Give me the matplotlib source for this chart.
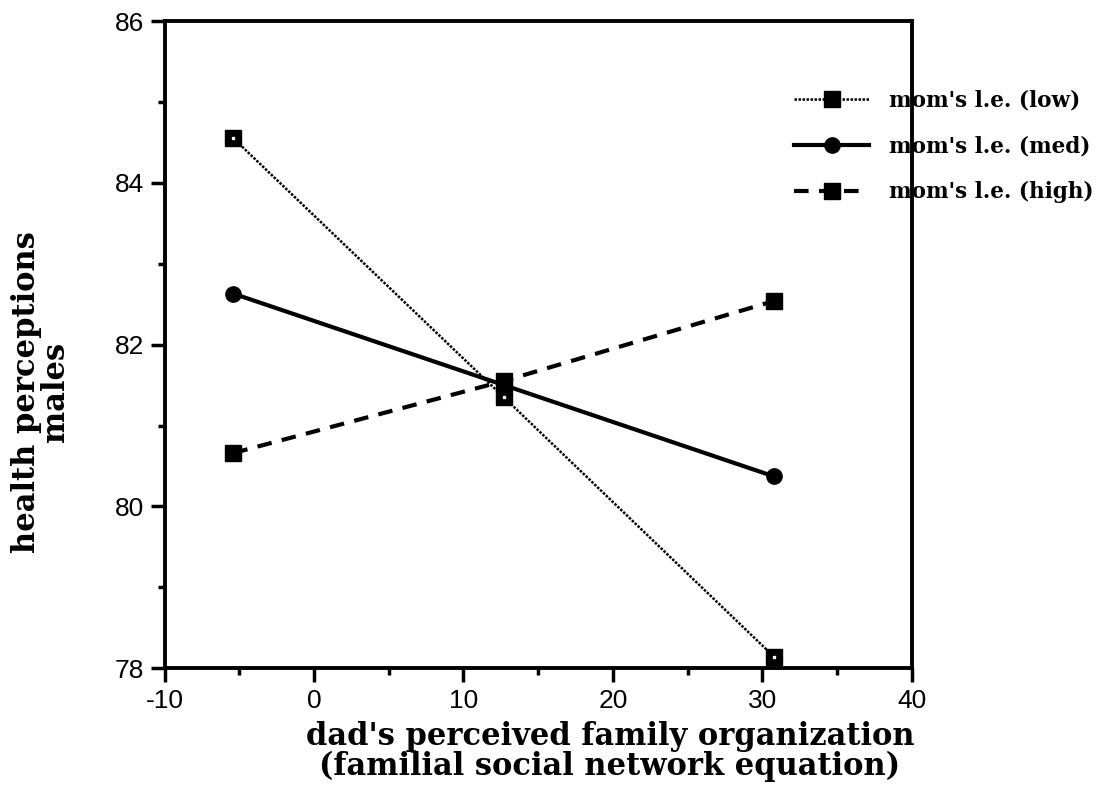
import numpy as np
import matplotlib.pyplot as plt
from matplotlib.ticker import MultipleLocator

plt.rcParams['axes.unicode_minus'] = False

# dad's perceived family organization (x) at three levels
x_vals = [-5.4, 12.7, 30.8]
low_vals = [84.55, 81.35, 78.14]   # mom's l.e. (low)
med_vals = [82.63, 81.50, 80.37]   # mom's l.e. (med)
high_vals = [80.66, 81.55, 82.54]  # mom's l.e. (high)
labels = ["mom's l.e. (low)", "mom's l.e. (med)", "mom's l.e. (high)"]

serif = ['DejaVu Serif']
sans = ['Liberation Sans', 'DejaVu Sans']

fig = plt.figure(figsize=(11.05, 8.08), dpi=100)
ax = fig.add_axes([0.149, 0.173, 0.676, 0.801])

ax.plot(x_vals, low_vals, color='black', linestyle=(0, (1, 0.6)), linewidth=1.8,
        marker='s', markersize=11, markerfacecolor='black', markeredgecolor='black',
        label=labels[0])
ax.plot(x_vals, med_vals, color='black', linestyle='-', linewidth=3,
        marker='o', markersize=11, label=labels[1])
ax.plot(x_vals, high_vals, color='black', linestyle=(0, (3.5, 2.5)), linewidth=3,
        marker='s', markersize=11, label=labels[2])
# little white speck inside low markers (scanned look)
ax.plot(x_vals, low_vals, linestyle='none', marker='s', markersize=1.6,
        markerfacecolor='white', markeredgecolor='white')

ax.set_xlim(-10, 40)
ax.set_ylim(78, 86)
ax.xaxis.set_major_locator(MultipleLocator(10))
ax.xaxis.set_minor_locator(MultipleLocator(5))
ax.yaxis.set_major_locator(MultipleLocator(2))
ax.yaxis.set_minor_locator(MultipleLocator(1))
ax.tick_params(which='major', direction='out', length=10, width=2.5, labelsize=19, pad=5)
ax.tick_params(which='minor', direction='out', length=5, width=2.5)
ax.tick_params(top=False, right=False)
for lab in ax.get_xticklabels() + ax.get_yticklabels():
    lab.set_family(sans)

for s in ax.spines.values():
    s.set_linewidth(2.8)
ax.spines['right'].set_zorder(10)

ax.set_xlabel("dad's perceived family organization\n(familial social network equation)",
              family=serif, fontweight='bold', fontsize=22, linespacing=0.95, labelpad=6)
ax.xaxis.label.set_x(0.596)
ax.set_ylabel("health perceptions\nmales", family=serif, fontweight='bold',
              fontsize=22, linespacing=0.95, labelpad=31)
ax.yaxis.label.set_y(0.427)

leg = ax.legend(loc='upper left', bbox_to_anchor=(0.701, 0.913),
                bbox_transform=fig.transFigure, frameon=False, handlelength=3.5,
                handletextpad=0.9, labelspacing=1.1,
                prop={'family': serif, 'weight': 'bold', 'size': 15.5})

fig.savefig('out.png', dpi=100)
